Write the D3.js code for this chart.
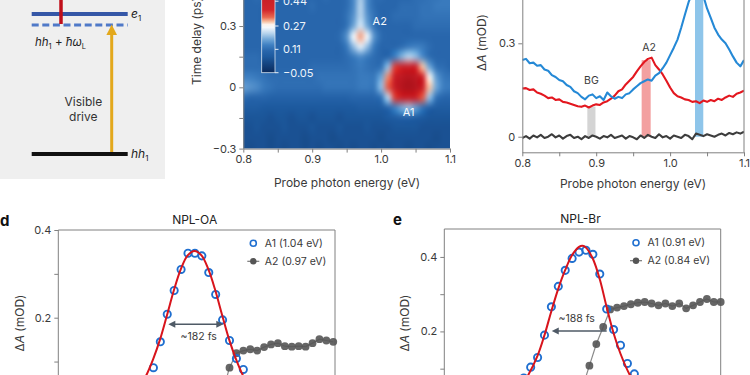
<!DOCTYPE html>
<html>
<head>
<meta charset="utf-8">
<script src="https://cdn.jsdelivr.net/npm/d3@7"></script>
<style>
body { margin: 0; background: #fff; }
svg { display: block; font-family: Inter, "Noto Sans", sans-serif; }
</style>
</head>
<body>
<svg id="fig" width="750" height="375"></svg>
<script>
// ---- panel b : transient map (probe energy x time delay), values in mOD ----
var mapEnergy = [0.80,0.81,0.82,0.83,0.84,0.85,0.86,0.87,0.88,0.89,0.90,0.91,0.92,0.93,0.94,0.95,0.96,0.97,0.98,0.99,1.00,1.01,1.02,1.03,1.04,1.05,1.06,1.07,1.08,1.09,1.10];
var mapDelay = [0.45,0.40,0.35,0.30,0.25,0.20,0.15,0.10,0.05,0.00,-0.05,-0.10,-0.15,-0.20,-0.25,-0.30];
var mapValues = [
  [0.10,0.10,0.11,0.10,0.10,0.09,0.10,0.10,0.11,0.10,0.10,0.10,0.11,0.10,0.10,0.11,0.15,0.21,0.15,0.11,0.11,0.10,0.10,0.10,0.10,0.11,0.11,0.12,0.12,0.13,0.13],
  [0.10,0.10,0.10,0.10,0.11,0.10,0.10,0.10,0.10,0.10,0.11,0.10,0.10,0.10,0.10,0.11,0.15,0.22,0.15,0.11,0.10,0.10,0.10,0.11,0.11,0.11,0.12,0.12,0.13,0.13,0.13],
  [0.10,0.10,0.10,0.09,0.10,0.10,0.10,0.10,0.10,0.10,0.10,0.10,0.10,0.10,0.10,0.12,0.16,0.22,0.16,0.12,0.10,0.10,0.11,0.11,0.11,0.11,0.12,0.12,0.12,0.12,0.12],
  [0.10,0.10,0.10,0.10,0.10,0.10,0.10,0.10,0.10,0.10,0.10,0.10,0.10,0.10,0.10,0.12,0.18,0.24,0.18,0.12,0.10,0.10,0.10,0.10,0.10,0.11,0.11,0.11,0.11,0.11,0.11],
  [0.10,0.10,0.10,0.10,0.10,0.10,0.10,0.10,0.10,0.10,0.10,0.10,0.10,0.10,0.11,0.16,0.26,0.31,0.26,0.16,0.11,0.10,0.10,0.10,0.10,0.10,0.10,0.10,0.10,0.10,0.10],
  [0.10,0.10,0.10,0.10,0.10,0.10,0.10,0.10,0.10,0.10,0.10,0.10,0.10,0.10,0.10,0.13,0.20,0.25,0.20,0.13,0.10,0.10,0.10,0.11,0.13,0.14,0.13,0.11,0.10,0.10,0.10],
  [0.11,0.11,0.11,0.10,0.10,0.10,0.10,0.10,0.10,0.10,0.10,0.10,0.10,0.10,0.10,0.11,0.13,0.15,0.13,0.11,0.10,0.10,0.14,0.19,0.22,0.20,0.15,0.11,0.10,0.10,0.10],
  [0.11,0.11,0.11,0.11,0.10,0.10,0.10,0.10,0.10,0.10,0.11,0.11,0.11,0.11,0.11,0.11,0.12,0.13,0.12,0.11,0.12,0.20,0.36,0.42,0.44,0.40,0.30,0.18,0.12,0.11,0.10],
  [0.14,0.14,0.13,0.12,0.11,0.11,0.11,0.11,0.11,0.11,0.11,0.12,0.12,0.12,0.12,0.12,0.12,0.13,0.13,0.13,0.18,0.32,0.45,0.52,0.55,0.52,0.42,0.28,0.17,0.13,0.12],
  [0.17,0.16,0.15,0.13,0.12,0.11,0.11,0.11,0.11,0.11,0.11,0.11,0.12,0.12,0.12,0.12,0.12,0.13,0.13,0.13,0.20,0.34,0.47,0.55,0.58,0.55,0.45,0.30,0.18,0.14,0.13],
  [0.11,0.10,0.10,0.10,0.09,0.09,0.09,0.09,0.09,0.09,0.09,0.09,0.09,0.09,0.09,0.09,0.10,0.10,0.10,0.10,0.12,0.22,0.36,0.45,0.47,0.44,0.34,0.20,0.12,0.10,0.10],
  [0.07,0.07,0.07,0.06,0.06,0.06,0.06,0.06,0.06,0.06,0.06,0.06,0.06,0.06,0.06,0.06,0.06,0.07,0.07,0.07,0.07,0.10,0.14,0.18,0.20,0.17,0.12,0.08,0.07,0.07,0.07],
  [0.05,0.05,0.05,0.05,0.04,0.05,0.05,0.04,0.05,0.05,0.04,0.05,0.05,0.05,0.04,0.05,0.05,0.05,0.05,0.05,0.05,0.06,0.07,0.08,0.08,0.07,0.06,0.05,0.05,0.05,0.05],
  [0.04,0.04,0.05,0.04,0.04,0.04,0.05,0.04,0.04,0.04,0.05,0.04,0.04,0.04,0.05,0.04,0.04,0.04,0.05,0.04,0.04,0.04,0.05,0.05,0.05,0.05,0.04,0.04,0.04,0.04,0.04],
  [0.04,0.04,0.04,0.04,0.03,0.04,0.04,0.04,0.04,0.03,0.04,0.04,0.04,0.03,0.04,0.04,0.04,0.04,0.04,0.04,0.03,0.04,0.04,0.04,0.04,0.04,0.04,0.04,0.03,0.04,0.04],
  [0.04,0.03,0.04,0.04,0.03,0.04,0.03,0.04,0.04,0.03,0.04,0.03,0.04,0.04,0.03,0.04,0.03,0.04,0.04,0.03,0.04,0.03,0.04,0.04,0.03,0.04,0.04,0.03,0.04,0.04,0.04]
];
var cbarTicks = [-0.05, 0.11, 0.27, 0.44];

// ---- panel c : spectra ----
var specEnergy = [0.800,0.805,0.810,0.815,0.820,0.825,0.830,0.835,0.840,0.845,0.850,0.855,0.860,0.865,0.870,0.875,0.880,0.885,0.890,0.895,0.900,0.905,0.910,0.915,0.920,0.925,0.930,0.935,0.940,0.945,0.950,0.955,0.960,0.965,0.970,0.975,0.980,0.985,0.990,0.995,1.000,1.005,1.010,1.015,1.020,1.025,1.030,1.035,1.040,1.045,1.050,1.055,1.060,1.065,1.070,1.075,1.080,1.085,1.090,1.095,1.100];
var specBlue = [0.246,0.250,0.236,0.238,0.228,0.230,0.216,0.212,0.198,0.192,0.182,0.178,0.166,0.160,0.146,0.140,0.128,0.120,0.132,0.136,0.124,0.130,0.118,0.142,0.130,0.122,0.128,0.124,0.136,0.140,0.152,0.162,0.172,0.178,0.184,0.180,0.196,0.204,0.220,0.238,0.262,0.286,0.312,0.350,0.392,0.432,0.462,0.478,0.480,0.452,0.412,0.382,0.350,0.328,0.312,0.300,0.280,0.258,0.238,0.226,0.246];
var specRed = [0.155,0.156,0.150,0.152,0.142,0.138,0.132,0.124,0.126,0.118,0.120,0.112,0.110,0.106,0.102,0.098,0.096,0.100,0.094,0.100,0.104,0.102,0.110,0.114,0.122,0.132,0.146,0.152,0.168,0.180,0.192,0.210,0.226,0.240,0.250,0.254,0.230,0.216,0.200,0.180,0.158,0.140,0.130,0.126,0.120,0.118,0.112,0.114,0.108,0.116,0.112,0.118,0.114,0.122,0.118,0.126,0.132,0.128,0.138,0.142,0.148];
var specGray = [-0.004,0.002,-0.006,0.004,-0.002,0.006,-0.004,0.000,0.008,-0.002,0.004,-0.006,0.002,0.006,-0.004,0.000,-0.008,0.002,-0.004,0.004,0.000,-0.006,0.002,-0.002,0.006,-0.004,0.000,0.004,-0.006,0.002,-0.002,-0.008,0.004,-0.004,0.006,0.000,-0.004,0.008,-0.002,0.002,-0.006,0.004,0.000,-0.004,0.006,0.002,-0.008,0.010,0.006,0.002,0.008,0.004,0.000,0.006,0.010,0.004,0.012,0.008,0.014,0.010,0.016];
var bandNames = ["BG", "A2", "A1"];
var bandRanges = [[0.888, 0.899], [0.9615, 0.9737], [1.0337, 1.0449]];
var bandTops = [0.097, 0.246, 0.50];

// ---- panel d : NPL-OA kinetics (delay in ps) ----
var dA1Delay = [-0.145,-0.125,-0.105,-0.085,-0.065,-0.045,-0.025,-0.005,0.015,0.035,0.055,0.075,0.095,0.115,0.135,0.155];
var dA1 = [0.045,0.086,0.145,0.208,0.262,0.310,0.347,0.347,0.341,0.303,0.253,0.195,0.148,0.107,0.082,0.050];
var dA2Delay = [0.055,0.075,0.095,0.115,0.135,0.155,0.175,0.195,0.215,0.235,0.255,0.275,0.295,0.315,0.335,0.355,0.375,0.395];
var dA2 = [0.005,0.030,0.086,0.119,0.125,0.128,0.125,0.133,0.139,0.142,0.135,0.134,0.135,0.134,0.142,0.151,0.148,0.145];
var dFitDelay = [-0.166,-0.146,-0.126,-0.106,-0.086,-0.066,-0.046,-0.026,-0.006,0.014,0.034,0.054,0.074,0.094,0.114,0.134,0.154];
var dFit = [0.040,0.068,0.105,0.150,0.205,0.262,0.310,0.342,0.352,0.342,0.310,0.262,0.205,0.150,0.105,0.068,0.040];
var dWidth = [-0.082, 0.077], dWidthLevel = 0.185;

// ---- panel e : NPL-Br kinetics ----
var eA1Delay = [-0.17,-0.15,-0.13,-0.11,-0.09,-0.07,-0.05,-0.03,-0.01,0.01,0.03,0.05,0.07,0.09,0.11,0.13,0.15,0.17];
var eA1 = [0.075,0.104,0.130,0.190,0.266,0.321,0.364,0.396,0.413,0.418,0.407,0.354,0.260,0.205,0.163,0.114,0.086,0.060];
var eA2Delay = [-0.02,0.00,0.02,0.04,0.06,0.08,0.10,0.12,0.14,0.16,0.18,0.20,0.22,0.24,0.26,0.28,0.30,0.32,0.34,0.36,0.38,0.40];
var eA2 = [0.010,0.050,0.108,0.166,0.212,0.259,0.264,0.268,0.273,0.277,0.279,0.275,0.270,0.275,0.268,0.275,0.262,0.270,0.279,0.287,0.279,0.279];
var eFitDelay = [-0.18,-0.157,-0.13,-0.11,-0.09,-0.07,-0.05,-0.03,-0.01,0.00,0.01,0.03,0.05,0.07,0.09,0.11,0.137,0.16];
var eFit = [0.050,0.083,0.135,0.190,0.255,0.315,0.365,0.405,0.427,0.430,0.425,0.395,0.340,0.265,0.195,0.140,0.083,0.050];
var eWidth = [-0.089, 0.070], eWidthLevel = 0.201;

var svg = d3.select("#fig");
var axisCol = "#808080", textCol = "#3a3a3a";

function styleAxis(g) {
    g.attr("font-family", null).attr("font-size", null);
    g.selectAll("path.domain, line").attr("stroke", axisCol);
    g.selectAll("text").attr("fill", textCol).style("font-size", "11px");
}
function signed(d) {
    if (d === 0) return "0";
    return (d < 0 ? "\u2212" : "") + Math.abs(d).toFixed(d === 0.44 || d === 0.27 || d === 0.11 || d === -0.05 ? 2 : 1);
}

// ================= panel a =================
var pa = svg.append("g");
pa.append("rect").attr("x", 0).attr("y", 0).attr("width", 165).attr("height", 179).attr("fill", "#efefef");
pa.append("line").attr("x1", 31.7).attr("x2", 127.7).attr("y1", 14).attr("y2", 14)
    .attr("stroke", "#3557a7").attr("stroke-width", 4);
pa.append("line").attr("x1", 31.7).attr("x2", 127.7).attr("y1", 25).attr("y2", 25)
    .attr("stroke", "#4f79c8").attr("stroke-width", 3).attr("stroke-dasharray", "7,3.6");
pa.append("line").attr("x1", 61).attr("x2", 61).attr("y1", -2).attr("y2", 24)
    .attr("stroke", "#c00f1a").attr("stroke-width", 3.5);
pa.append("line").attr("x1", 111.7).attr("x2", 111.7).attr("y1", 153).attr("y2", 33)
    .attr("stroke", "#e3a81c").attr("stroke-width", 3);
pa.append("path").attr("d", "M111.7,24.5 L117,35 L106.4,35 Z").attr("fill", "#e3a81c");
pa.append("line").attr("x1", 31.7).attr("x2", 127.7).attr("y1", 154).attr("y2", 154)
    .attr("stroke", "#111").attr("stroke-width", 4);

var t1 = pa.append("text").attr("x", 131).attr("y", 18).attr("fill", "#222").style("font-size", "12px");
t1.append("tspan").attr("font-style", "italic").text("e");
t1.append("tspan").attr("dy", 3).style("font-size", "8px").text("1");
var t2 = pa.append("text").attr("x", 131).attr("y", 158).attr("fill", "#222").style("font-size", "12px");
t2.append("tspan").attr("font-style", "italic").text("hh");
t2.append("tspan").attr("dy", 3).style("font-size", "8px").text("1");
var t3 = pa.append("text").attr("x", 35).attr("y", 46).attr("fill", "#222").style("font-size", "11.5px");
t3.append("tspan").attr("font-style", "italic").text("hh");
t3.append("tspan").attr("dy", 3).style("font-size", "7.5px").text("1");
t3.append("tspan").attr("dy", -3).text(" + ");
t3.append("tspan").attr("font-style", "italic").text("\u0127\u03c9");
t3.append("tspan").attr("dy", 3).style("font-size", "7.5px").text("L");
pa.append("text").attr("x", 83.3).attr("y", 105.5).attr("text-anchor", "middle")
    .attr("fill", "#333").style("font-size", "12px").text("Visible");
pa.append("text").attr("x", 83.3).attr("y", 120.5).attr("text-anchor", "middle")
    .attr("fill", "#333").style("font-size", "12px").text("drive");

// ================= panel b =================
var bx = d3.scaleLinear().domain([0.8, 1.1]).range([243.3, 450]);
var by = d3.scaleLinear().domain([-0.3, 0.45]).range([148.6, -4.6]);
var mapColor = d3.scaleLinear()
    .domain([-0.05, 0.02, 0.06, 0.10, 0.14, 0.18, 0.22, 0.26, 0.28, 0.30, 0.33, 0.38, 0.50, 0.60])
    .range(["#0a2a5c", "#164886", "#1d5a9f", "#2866ac", "#3f80c2", "#72a8d8", "#b7d4ed", "#f4f8fc",
            "#fdf3ec", "#f7c1a3", "#e8684f", "#d2262b", "#c41c24", "#a80f19"])
    .clamp(true);

svg.append("clipPath").attr("id", "clipB").append("rect")
    .attr("x", bx(0.8)).attr("y", -10).attr("width", bx(1.1) - bx(0.8)).attr("height", by(-0.3) + 10);

// small image, one pixel per grid value, then smoothed up to screen size
var cv = document.createElement("canvas");
cv.width = mapEnergy.length;
cv.height = mapDelay.length;
var ctx = cv.getContext("2d");
var img = ctx.createImageData(cv.width, cv.height);
mapValues.forEach(function(row, j) {
    row.forEach(function(v, i) {
        var c = d3.rgb(mapColor(v));
        var k = (j * cv.width + i) * 4;
        img.data[k] = c.r; img.data[k + 1] = c.g; img.data[k + 2] = c.b; img.data[k + 3] = 255;
    });
});
ctx.putImageData(img, 0, 0);
var dE = mapEnergy[1] - mapEnergy[0], dT = mapDelay[0] - mapDelay[1];
var nE = mapEnergy.length - 1, nT = mapDelay.length - 1;
var imgX = bx(mapEnergy[0] - dE / 2), imgY = by(mapDelay[0] + dT / 2);
var imgW = bx(mapEnergy[nE] + dE / 2) - imgX, imgH = by(mapDelay[nT] - dT / 2) - imgY;
var big = document.createElement("canvas");
big.width = Math.round(imgW * 2);
big.height = Math.round(imgH * 2);
var bctx = big.getContext("2d");
bctx.imageSmoothingEnabled = true;
bctx.imageSmoothingQuality = "high";
bctx.drawImage(cv, 0, 0, big.width, big.height);
svg.append("image")
    .attr("href", big.toDataURL())
    .attr("x", imgX).attr("y", imgY).attr("width", imgW).attr("height", imgH)
    .attr("preserveAspectRatio", "none")
    .attr("clip-path", "url(#clipB)");

svg.append("g").attr("transform", "translate(0," + by(-0.3) + ")")
    .call(d3.axisBottom(bx).tickValues([0.8, 0.85, 0.9, 0.95, 1.0, 1.05, 1.1]).tickSize(4).tickSizeOuter(0)
        .tickFormat(function(d) { return [0.85, 0.95, 1.05].indexOf(d) >= 0 ? "" : d.toFixed(1); }))
    .call(styleAxis);
svg.append("g").attr("transform", "translate(" + bx(0.8) + ",0)")
    .call(d3.axisLeft(by).tickValues([-0.3, -0.15, 0, 0.15, 0.3]).tickSize(4).tickSizeOuter(0)
        .tickFormat(function(d) { return Math.abs(d) === 0.15 ? "" : signed(d); }))
    .call(styleAxis);

svg.append("text").attr("x", 347).attr("y", 187).attr("text-anchor", "middle")
    .attr("fill", textCol).style("font-size", "12px").text("Probe photon energy (eV)");
svg.append("text").attr("transform", "translate(201,85) rotate(-90)")
    .attr("fill", textCol).style("font-size", "12px").text("Time delay (ps)");

// colour bar
var cb = d3.scaleLinear().domain([-0.05, 0.44]).range([72.7, 1.2]);
var grad = svg.append("defs").append("linearGradient").attr("id", "cbGrad")
    .attr("x1", 0).attr("x2", 0).attr("y1", 1).attr("y2", 0);
mapColor.domain().forEach(function(v) {
    grad.append("stop").attr("offset", (v + 0.05) / 0.65).attr("stop-color", mapColor(v));
});
svg.append("rect").attr("x", 261.7).attr("y", cb(0.6)).attr("width", 13.3).attr("height", cb(-0.05) - cb(0.6))
    .attr("fill", "url(#cbGrad)").attr("stroke", "#d8e4f0").attr("stroke-width", 0.8);
cbarTicks.forEach(function(v) {
    svg.append("line").attr("x1", 275).attr("x2", 278.5).attr("y1", cb(v)).attr("y2", cb(v))
        .attr("stroke", "#e6eef6").attr("stroke-width", 1);
    svg.append("text").attr("x", 283).attr("y", cb(v)).attr("dy", "0.35em")
        .attr("fill", "#eef4fa").style("font-size", "11px").text(signed(v));
});
svg.append("text").attr("x", bx(0.998)).attr("y", by(0.323)).attr("dy", "0.35em").attr("text-anchor", "middle")
    .attr("fill", "#f4f8fc").style("font-size", "11px").text("A2");
svg.append("text").attr("x", bx(1.04)).attr("y", by(-0.12)).attr("dy", "0.35em").attr("text-anchor", "middle")
    .attr("fill", "#f4f8fc").style("font-size", "11px").text("A1");

// ================= panel c =================
var cx = d3.scaleLinear().domain([0.8, 1.1]).range([522.3, 744]);
var cy = d3.scaleLinear().domain([-0.05, 0.45]).range([152.3, -3.4]);
svg.append("clipPath").attr("id", "clipC").append("rect")
    .attr("x", cx(0.8)).attr("y", -10).attr("width", cx(1.1) - cx(0.8)).attr("height", cy(-0.05) + 10);
var pc = svg.append("g").attr("clip-path", "url(#clipC)");
var bandFill = ["#d4d4d4", "#f3a0a0", "#8ec5ea"];
bandRanges.forEach(function(r, i) {
    pc.append("rect").attr("x", cx(r[0])).attr("width", cx(r[1]) - cx(r[0]))
        .attr("y", cy(bandTops[i])).attr("height", cy(0) - cy(bandTops[i]))
        .attr("fill", bandFill[i]);
});
var specLine = d3.line()
    .x(function(d, i) { return cx(specEnergy[i]); })
    .y(function(d) { return cy(d); });
[[specGray, "#3d3d3d"], [specRed, "#e3171f"], [specBlue, "#2589d6"]].forEach(function(s) {
    pc.append("path").datum(s[0]).attr("d", specLine)
        .attr("fill", "none").attr("stroke", s[1]).attr("stroke-width", 2.1).attr("stroke-linejoin", "round");
});
svg.append("g").attr("transform", "translate(0," + cy(-0.05) + ")")
    .call(d3.axisBottom(cx).tickValues([0.8, 0.85, 0.9, 0.95, 1.0, 1.05, 1.1]).tickSize(4).tickSizeOuter(0)
        .tickFormat(function(d) { return [0.85, 0.95, 1.05].indexOf(d) >= 0 ? "" : d.toFixed(1); }))
    .call(styleAxis);
svg.append("g").attr("transform", "translate(" + cx(0.8) + ",0)")
    .call(d3.axisLeft(cy).tickValues([0, 0.3]).tickSize(4).tickSizeOuter(0)
        .tickFormat(function(d) { return d === 0 ? "0" : d.toFixed(1); }))
    .call(styleAxis);
svg.append("line").attr("x1", cx(1.1)).attr("x2", cx(1.1)).attr("y1", cy(0.45)).attr("y2", cy(-0.05))
    .attr("stroke", axisCol);
svg.append("text").attr("x", cx((bandRanges[0][0] + bandRanges[0][1]) / 2)).attr("y", cy(0.182))
    .attr("dy", "0.35em").attr("text-anchor", "middle").attr("fill", textCol).style("font-size", "10.5px").text(bandNames[0]);
svg.append("text").attr("x", cx((bandRanges[1][0] + bandRanges[1][1]) / 2) + 3).attr("y", cy(0.286))
    .attr("dy", "0.35em").attr("text-anchor", "middle").attr("fill", textCol).style("font-size", "10.5px").text(bandNames[1]);
svg.append("text").attr("x", 633).attr("y", 188).attr("text-anchor", "middle")
    .attr("fill", textCol).style("font-size", "12px").text("Probe photon energy (eV)");
var yl = svg.append("text").attr("transform", "translate(485.5,42.5) rotate(-90)").attr("text-anchor", "middle")
    .attr("fill", textCol).style("font-size", "12px");
yl.append("tspan").text("\u0394");
yl.append("tspan").attr("font-style", "italic").text("A");
yl.append("tspan").text(" (mOD)");

// ================= panels d, e =================
function kinetics(opt) {
    var x = d3.scaleLinear().domain([-0.4, 0.4]).range([opt.left, opt.right]);
    var y = d3.scaleLinear().domain([0, opt.ymax]).range([opt.zero, opt.top]);
    var g = svg.append("g");

    g.append("path").attr("d", "M" + opt.left + ",380 V" + opt.top + " H" + opt.right + " V380")
        .attr("fill", "none").attr("stroke", axisCol);
    g.append("g").attr("transform", "translate(" + opt.left + ",0)")
        .call(d3.axisLeft(y).tickValues([0.1, 0.2, 0.3, 0.4]).tickSize(4).tickSizeOuter(0)
            .tickFormat(function(d) { return (d === 0.2 || d === 0.4) ? d.toFixed(1) : ""; }))
        .call(styleAxis)
        .select("path.domain").remove();

    var lineA2 = d3.line()
        .x(function(d, i) { return x(opt.a2Delay[i]); })
        .y(function(d) { return y(d); });
    g.append("path").datum(opt.a2).attr("d", lineA2)
        .attr("fill", "none").attr("stroke", "#8a8a8a").attr("stroke-width", 1.2);
    g.selectAll(".a2").data(opt.a2).enter().append("circle")
        .attr("cx", function(d, i) { return x(opt.a2Delay[i]); })
        .attr("cy", function(d) { return y(d); })
        .attr("r", 3.9).attr("fill", "#555").attr("fill-opacity", 0.9);

    g.selectAll(".a1").data(opt.a1).enter().append("circle")
        .attr("cx", function(d, i) { return x(opt.a1Delay[i]); })
        .attr("cy", function(d) { return y(d); })
        .attr("r", 3.6).attr("fill", "none").attr("stroke", "#1f6fd0").attr("stroke-width", 1.9);

    var fitLine = d3.line().curve(d3.curveCatmullRom)
        .x(function(d, i) { return x(opt.fitDelay[i]); })
        .y(function(d) { return y(d); });
    g.append("path").datum(opt.fit).attr("d", fitLine)
        .attr("fill", "none").attr("stroke", "#d8141c").attr("stroke-width", 2);

    // width arrow
    var ay = y(opt.wLevel), ax1 = x(opt.width[0]), ax2 = x(opt.width[1]);
    g.append("line").attr("x1", ax1 + 3).attr("x2", opt.both ? ax2 - 3 : ax2).attr("y1", ay).attr("y2", ay)
        .attr("stroke", "#4f5a66").attr("stroke-width", 1.6);
    g.append("path").attr("d", "M" + ax1 + "," + ay + " l7,-3.5 v7 Z").attr("fill", "#4f5a66");
    if (opt.both) g.append("path").attr("d", "M" + ax2 + "," + ay + " l-7,-3.5 v7 Z").attr("fill", "#4f5a66");
    g.append("text").attr("x", opt.wLabel[0]).attr("y", opt.wLabel[1]).attr("dy", "0.35em").attr("text-anchor", "middle")
        .attr("fill", textCol).style("font-size", "10.5px").text(opt.wText);

    // legend
    var lx = opt.legendX, ly = opt.legendY;
    g.append("circle").attr("cx", lx).attr("cy", ly).attr("r", 3).attr("fill", "none")
        .attr("stroke", "#1f6fd0").attr("stroke-width", 1.6);
    g.append("line").attr("x1", lx - 6).attr("x2", lx + 6).attr("y1", ly + 18).attr("y2", ly + 18)
        .attr("stroke", "#777").attr("stroke-width", 1.2);
    g.append("circle").attr("cx", lx).attr("cy", ly + 18).attr("r", 3.2).attr("fill", "#555");
    g.append("text").attr("x", lx + 11.5).attr("y", ly).attr("dy", "0.35em").attr("fill", textCol)
        .style("font-size", "10.5px").text(opt.leg[0]);
    g.append("text").attr("x", lx + 11.5).attr("y", ly + 18).attr("dy", "0.35em").attr("fill", textCol)
        .style("font-size", "10.5px").text(opt.leg[1]);

    g.append("text").attr("x", (opt.left + opt.right) / 2 - 2).attr("y", opt.top - 6).attr("text-anchor", "middle")
        .attr("fill", "#222").style("font-size", "12px").text(opt.title);
    g.append("text").attr("x", opt.letterX).attr("y", opt.top - 4).attr("fill", "#111")
        .style("font-size", "15px").style("font-weight", "bold").text(opt.letter);
    var t = g.append("text").attr("transform", "translate(" + opt.yTitleX + ",323) rotate(-90)")
        .attr("text-anchor", "middle").attr("fill", textCol).style("font-size", "12px");
    t.append("tspan").text("\u0394");
    t.append("tspan").attr("font-style", "italic").text("A");
    t.append("tspan").text(" (mOD)");
}

kinetics({
    left: 58.3, right: 335, top: 230, zero: 405.4, ymax: 0.4,
    a1Delay: dA1Delay, a1: dA1, a2Delay: dA2Delay, a2: dA2, fitDelay: dFitDelay, fit: dFit,
    width: dWidth, wLevel: dWidthLevel, both: true, wText: "~182 fs", wLabel: [198.7, 336.7],
    legendX: 253.3, legendY: 243.3, leg: ["A1 (1.04 eV)", "A2 (0.97 eV)"],
    title: "NPL-OA", letter: "d", letterX: 0, yTitleX: 24
});
kinetics({
    left: 444.3, right: 720.7, top: 229, zero: 405.9, ymax: 0.475,
    a1Delay: eA1Delay, a1: eA1, a2Delay: eA2Delay, a2: eA2, fitDelay: eFitDelay, fit: eFit,
    width: eWidth, wLevel: eWidthLevel, both: false, wText: "~188 fs", wLabel: [576.7, 318.3],
    legendX: 636, legendY: 242.7, leg: ["A1 (0.91 eV)", "A2 (0.84 eV)"],
    title: "NPL-Br", letter: "e", letterX: 393, yTitleX: 409
});
</script>
</body>
</html>
